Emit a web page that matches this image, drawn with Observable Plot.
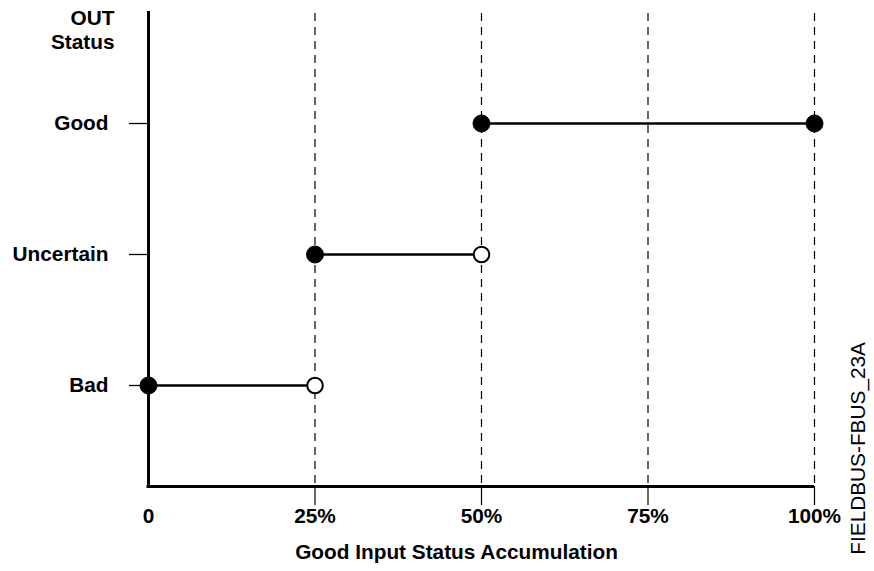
<!DOCTYPE html>
<html><head><meta charset="utf-8">
<script src="https://cdn.jsdelivr.net/npm/d3@7"></script>
<script src="https://cdn.jsdelivr.net/npm/@observablehq/plot@0.6"></script>
<style>body{margin:0;background:#fff}</style>
</head><body><div id="chart"></div>
<script>
const categories = ["Bad", "Uncertain", "Good"];
const levels = [1, 2, 3];
const segStart = [0, 25, 50];
const segEnd = [25, 50, 100];
const endClosed = [false, false, true];
const xTicks = [0, 25, 50, 75, 100];
const xTickLabels = ["0", "25%", "50%", "75%", "100%"];
const gridLines = [25, 50, 75, 100];
const xTitle = "Good Input Status Accumulation";
const yTitle = "OUT\nStatus";
const caption = "FIELDBUS-FBUS_23A";

const segs = categories.map((c, i) => ({cat: c, level: levels[i], x1: segStart[i], x2: segEnd[i], closed: endClosed[i]}));
const filledDots = segs.flatMap(s => [{x: s.x1, y: s.level}].concat(s.closed ? [{x: s.x2, y: s.level}] : []));
const openDots = segs.filter(s => !s.closed).map(s => ({x: s.x2, y: s.level}));

const FS = 20.8;
const chart = Plot.plot({
  width: 874,
  height: 571,
  marginLeft: 148,
  marginRight: 60,
  marginTop: 11,
  marginBottom: 85,
  style: {fontFamily: "'Liberation Sans', Arial, sans-serif", background: "#fff", color: "#000"},
  x: {domain: [0, 100], axis: null},
  y: {domain: [0.229, 3.855], axis: null},
  marks: [
    Plot.ruleX(gridLines, {x: d => d, stroke: "#000", strokeWidth: 1.2, strokeDasharray: "8,6", insetTop: 2}),
    Plot.ruleX(gridLines, {x: d => d, stroke: "#000", strokeWidth: 1.2, insetTop: 475, insetBottom: -19}),
    Plot.ruleY(levels, {y: d => d, stroke: "#000", strokeWidth: 1.3, insetLeft: -19, insetRight: 666}),
    Plot.ruleX([0], {stroke: "#000", strokeWidth: 3}),
    Plot.ruleY([0.229], {stroke: "#000", strokeWidth: 3, insetLeft: -1.5}),
    Plot.ruleY(segs, {y: "level", x1: "x1", x2: "x2", stroke: "#000", strokeWidth: 2.5}),
    Plot.dot(filledDots, {x: "x", y: "y", r: 8.5, fill: "#000", stroke: "#000", strokeWidth: 1}),
    Plot.dot(openDots, {x: "x", y: "y", r: 7.8, fill: "#fff", stroke: "#000", strokeWidth: 2}),
    Plot.text(xTicks, {x: d => d, text: (d, i) => xTickLabels[i], frameAnchor: "bottom", dy: 36, fontSize: FS, fontWeight: "bold", fill: "#000"}),
    Plot.text(levels, {y: d => d, text: (d, i) => categories[i], frameAnchor: "left", textAnchor: "end", dx: -40, fontSize: FS, fontWeight: "bold", fill: "#000"}),
    Plot.text([xTitle], {frameAnchor: "bottom", dy: 72, dx: -25, fontSize: FS, fontWeight: "bold", fill: "#000"}),
    Plot.text([yTitle], {frameAnchor: "top-left", textAnchor: "end", lineAnchor: "top", dx: -34, dy: -3, lineHeight: 1.15, fontSize: FS, fontWeight: "bold", fill: "#000"}),
    Plot.text([caption], {x: [106.6], y: [0.52], rotate: -90, fontSize: FS, fill: "#000"})
  ]
});
document.getElementById("chart").appendChild(chart);
</script>
</body></html>
